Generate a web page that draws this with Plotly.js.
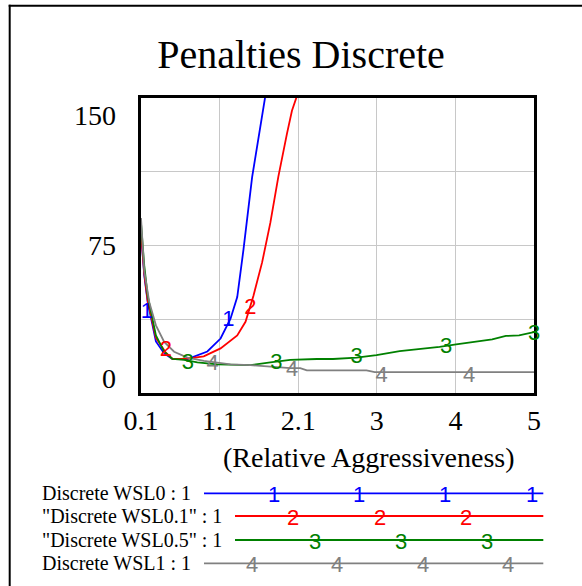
<!DOCTYPE html>
<html>
<head>
<meta charset="utf-8">
<script src="https://cdn.plot.ly/plotly-3.0.1.min.js"></script>
<style>
  html, body { margin: 0; padding: 0; background: #ffffff; }
  #chart { width: 582px; height: 586px; }
</style>
</head>
<body>
<div id="chart"></div>
<script>
// ---------------- Data ----------------
const chartTitle = 'Penalties Discrete';
const xAxisTitle = '(Relative Aggressiveness)';

const xTickVals = [0.1, 1.08, 2.06, 3.04, 4.02, 5];
const xTickText = ['0.1', '1.1', '2.1', '3', '4', '5'];
const yTickText = ['0', '75', '150'];

const seriesNames = ['Discrete WSL0', 'Discrete WSL0.1', 'Discrete WSL0.5', 'Discrete WSL1'];
const legendLabels = ['Discrete WSL0 : 1', '"Discrete WSL0.1" : 1', '"Discrete WSL0.5" : 1', 'Discrete WSL1 : 1'];
const seriesDigits = ['1', '2', '3', '4'];

// Discrete WSL0 (blue)
const xWSL0 = [0.1, 0.14, 0.183, 0.286, 0.389, 0.493, 0.679, 0.927, 1.092, 1.216, 1.30, 1.378, 1.486, 1.564, 1.65];
const yWSL0 = [81.5, 60, 46.3, 26.2, 20.1, 17.3, 17.3, 21.1, 27.7, 37.8, 48.8, 73, 109.9, 128.4, 151];

// Discrete WSL0.1 (red)
const xWSL01 = [0.1, 0.14, 0.183, 0.286, 0.348, 0.41, 0.493, 0.68, 0.882, 1.092, 1.30, 1.403, 1.502, 1.61, 1.713, 1.812, 1.92, 1.982, 2.044];
const yWSL01 = [82, 61, 47, 28, 24.3, 20.5, 17.3, 17.5, 18.6, 22.7, 29.3, 36.2, 49.5, 66.4, 86.6, 109.9, 131.9, 143.5, 151];

// Discrete WSL0.5 (green)
const xWSL05 = [0.1, 0.14, 0.183, 0.286, 0.389, 0.493, 0.637, 0.803, 1.051, 1.465, 1.713, 1.961, 2.292, 2.494, 2.788, 3.036, 3.325, 3.532, 3.822, 4.029, 4.277, 4.479, 4.649, 4.814, 5.0];
const yWSL05 = [86.4, 65, 49.5, 29.3, 21, 17.3, 16.8, 15.6, 14.6, 14.2, 15.6, 16.8, 17.3, 17.3, 18, 19.3, 21.3, 22.1, 23.5, 24.7, 26.3, 27.3, 29, 29.3, 31];

// Discrete WSL1 (gray)
const xWSL1 = [0.1, 0.141, 0.203, 0.286, 0.389, 0.513, 0.679, 0.885, 1.051, 1.216, 1.465, 1.713, 1.961, 2.085, 2.168, 2.912, 3.015, 5.0];
const yWSL1 = [89, 62, 46.2, 34.4, 26, 21, 18, 16.3, 15.5, 14.6, 14.2, 13.4, 12.6, 12.6, 11.5, 11.5, 10.6, 10.6];

// Series marker labels ("1".."4") along each curve
const mxWSL0 = [0.174, 1.19];
const myWSL0 = [41, 36.7];
const mxWSL01 = [0.41, 1.465];
const myWSL01 = [21.6, 42.8];
const mxWSL05 = [0.683, 1.787, 2.788, 3.905, 5.0];
const myWSL05 = [15.1, 15.1, 18, 23, 30];
const mxWSL1 = [0.993, 1.985, 3.1, 4.19];
const myWSL1 = [14.6, 11.6, 8.4, 8.4];

// ---------------- Styling / layout ----------------
const colors = ['#0000ff', '#ff0000', '#008000', '#808080'];
const serif = '"Liberation Serif", "Times New Roman", Times, serif';
const sans = '"Liberation Sans", Arial, Helvetica, sans-serif';

const W = 582, H = 586;
const L = 141, T = 98, PW = 393, PH = 295;
const px2x = p => (p - L) / PW;
const py2y = p => (T + PH - p) / PH;

const xs = [xWSL0, xWSL01, xWSL05, xWSL1];
const ys = [yWSL0, yWSL01, yWSL05, yWSL1];
const mxs = [mxWSL0, mxWSL01, mxWSL05, mxWSL1];
const mys = [myWSL0, myWSL01, myWSL05, myWSL1];

const traces = [];
for (let i = 0; i < 4; i++) {
  traces.push({
    type: 'scatter', mode: 'lines', name: seriesNames[i],
    x: xs[i], y: ys[i],
    line: { color: colors[i], width: 1.8 },
    hoverinfo: 'skip', showlegend: false
  });
}
for (let i = 0; i < 4; i++) {
  traces.push({
    type: 'scatter', mode: 'text', name: seriesNames[i] + ' labels',
    x: mxs[i], y: mys[i],
    text: mxs[i].map(() => seriesDigits[i]),
    textposition: 'middle center',
    textfont: { family: sans, size: 22, color: colors[i] },
    cliponaxis: false, hoverinfo: 'skip', showlegend: false
  });
}
// invisible trace so the label axis is drawn
traces.push({ type: 'scatter', mode: 'lines', x: [], y: [], yaxis: 'y2', showlegend: false, hoverinfo: 'skip' });

// Legend (drawn as shapes + annotations below the plot)
const legendY = [493.3, 516, 540, 563.3];
const legendLineStart = [204, 235, 235, 204];
const legendLineEnd = 543.3;
const legendDigitX = [
  [274.3, 359.3, 445, 531.7],
  [293.3, 380, 466],
  [315, 400.7, 486.7],
  [251.7, 336.7, 422.7, 508.3]
];

const shapes = [
  // outer frame (top and left)
  { type: 'line', xref: 'paper', yref: 'paper', x0: px2x(8.7), x1: px2x(590), y0: py2y(5.8), y1: py2y(5.8), line: { color: '#000', width: 2 } },
  { type: 'line', xref: 'paper', yref: 'paper', x0: px2x(9.7), x1: px2x(9.7), y0: py2y(4.8), y1: py2y(600), line: { color: '#000', width: 2 } }
];
const annotations = [
  { text: xAxisTitle, xref: 'paper', yref: 'paper', x: px2x(369), y: py2y(457.5), xanchor: 'center', yanchor: 'middle', showarrow: false, font: { family: serif, size: 28, color: '#000' } }
];
for (let i = 0; i < 4; i++) {
  shapes.push({ type: 'line', xref: 'paper', yref: 'paper', x0: px2x(legendLineStart[i]), x1: px2x(legendLineEnd), y0: py2y(legendY[i]), y1: py2y(legendY[i]), line: { color: colors[i], width: 1.8 } });
  annotations.push({ text: legendLabels[i], xref: 'paper', yref: 'paper', x: px2x(40), y: py2y(legendY[i]), xanchor: 'left', yanchor: 'middle', showarrow: false, font: { family: serif, size: 20, color: '#000' } });
  legendDigitX[i].forEach(dx => {
    annotations.push({ text: seriesDigits[i], xref: 'paper', yref: 'paper', x: px2x(dx), y: py2y(legendY[i] + 1.5), xanchor: 'center', yanchor: 'middle', showarrow: false, font: { family: sans, size: 22, color: colors[i] } });
  });
}

const layout = {
  width: W, height: H,
  margin: { l: L, r: W - L - PW, t: T, b: H - T - PH, pad: 0 },
  paper_bgcolor: '#ffffff', plot_bgcolor: '#ffffff',
  showlegend: false,
  title: {
    text: chartTitle,
    font: { family: serif, size: 40, color: '#000' },
    x: 301 / W, xanchor: 'center', xref: 'container',
    y: 1 - 54 / H, yanchor: 'middle', yref: 'container'
  },
  xaxis: {
    range: [0.1, 5], tickmode: 'array', tickvals: xTickVals, ticktext: xTickText,
    showgrid: true, gridcolor: '#c8c8c8', gridwidth: 1, zeroline: false,
    showline: true, mirror: true, linecolor: '#000', linewidth: 3,
    ticks: '', ticklabelstandoff: 0,
    tickfont: { family: serif, size: 28, color: '#000' },
    layer: 'below traces', fixedrange: true
  },
  yaxis: {
    range: [0, 150], tickmode: 'array', tickvals: [0, 37.5, 75, 112.5, 150],
    showticklabels: false,
    showgrid: true, gridcolor: '#c8c8c8', gridwidth: 1, zeroline: false,
    showline: true, mirror: true, linecolor: '#000', linewidth: 3,
    ticks: '', layer: 'below traces', fixedrange: true
  },
  yaxis2: {
    overlaying: 'y', side: 'left', range: [0, 150],
    tickmode: 'array', tickvals: [7.6, 75, 141.4], ticktext: yTickText,
    showgrid: false, zeroline: false, showline: false, ticks: '',
    ticklabelstandoff: 24,
    tickfont: { family: serif, size: 28, color: '#000' }, fixedrange: true
  },
  shapes: shapes,
  annotations: annotations
};

Plotly.newPlot('chart', traces, layout, { staticPlot: true, displayModeBar: false });
</script>
</body>
</html>
